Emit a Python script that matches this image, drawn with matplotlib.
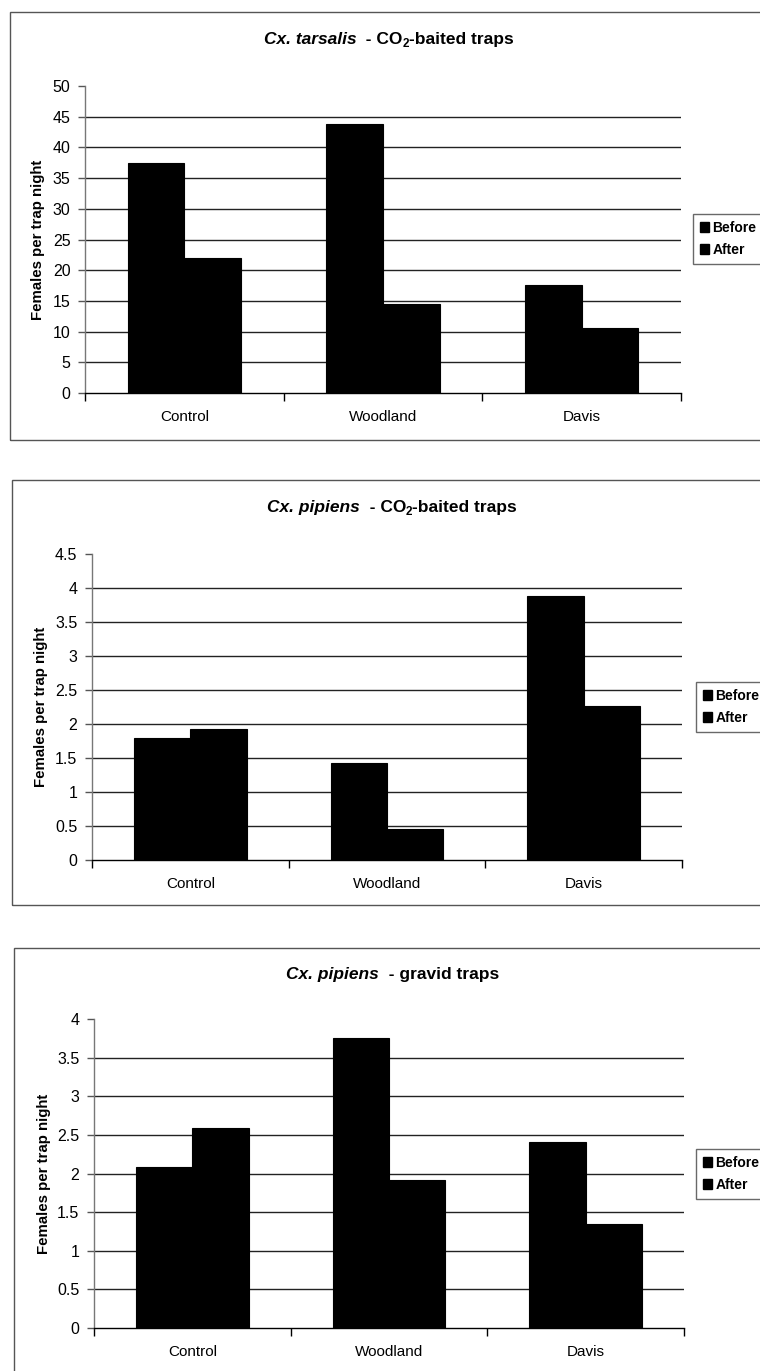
import matplotlib
matplotlib.use("Agg")
import matplotlib.pyplot as plt
from matplotlib.patches import Rectangle, Patch
from matplotlib.transforms import IdentityTransform
import numpy as np

plt.rcParams["font.family"] = ["Liberation Sans", "DejaVu Sans"]

W, H = 760, 1371
DPI = 100

# ---- data -------------------------------------------------------------
sites = ["Control", "Woodland", "Davis"]
series_names = ["Before", "After"]

tarsalis_co2_before = [37.5, 43.8, 17.6]
tarsalis_co2_after = [22.0, 14.5, 10.6]

pipiens_co2_before = [1.80, 1.43, 3.88]
pipiens_co2_after = [1.92, 0.45, 2.26]

pipiens_gravid_before = [2.09, 3.75, 2.41]
pipiens_gravid_after = [2.59, 1.92, 1.35]

yticks_tarsalis = [0, 5, 10, 15, 20, 25, 30, 35, 40, 45, 50]
yticks_pipiens_co2 = [0, 0.5, 1, 1.5, 2, 2.5, 3, 3.5, 4, 4.5]
yticks_pipiens_gravid = [0, 0.5, 1, 1.5, 2, 2.5, 3, 3.5, 4]

panels = [
    dict(species="Cx. tarsalis", trap="co2", before=tarsalis_co2_before,
         after=tarsalis_co2_after, yticks=yticks_tarsalis,
         ax_px=(85, 681, 86, 393), title_px=(389, 38), frame_px=(10, 12, 440),
         legend_px=(693, 214), ylabel_x=38),
    dict(species="Cx. pipiens", trap="co2", before=pipiens_co2_before,
         after=pipiens_co2_after, yticks=yticks_pipiens_co2,
         ax_px=(92, 682, 554, 860), title_px=(392, 506), frame_px=(12, 480, 905),
         legend_px=(696, 682), ylabel_x=41),
    dict(species="Cx. pipiens", trap="gravid", before=pipiens_gravid_before,
         after=pipiens_gravid_after, yticks=yticks_pipiens_gravid,
         ax_px=(94, 684, 1019, 1328), title_px=(393, 973), frame_px=(14, 948, 1420),
         legend_px=(696, 1149), ylabel_x=44),
]

fig = plt.figure(figsize=(W / DPI, H / DPI), dpi=DPI)
fig.patch.set_facecolor("white")


def fx(px):
    return px / W


def fy(py):
    return 1 - py / H


def draw_rich(fig, cx, cy, pieces):
    """Draw a sequence of differently styled text pieces centred at (cx, cy) px."""
    renderer = fig.canvas.get_renderer()
    items = []
    for txt, props, dy in pieces:
        t = fig.text(0, 0, txt, transform=IdentityTransform(),
                     va="baseline", ha="left", **props)
        w = t.get_window_extent(renderer).width
        items.append((t, w, dy))
    total = sum(w for _, w, _ in items)
    x = cx - total / 2
    base = (H - cy) - 6
    for t, w, dy in items:
        t.set_position((x, base - dy))
        x += w


bar_w = 1 / 3.5
centers = np.arange(len(sites)) + 0.5
TFS = 12.5

for p in panels:
    l, r, t, b = p["ax_px"]
    ax = fig.add_axes([fx(l), fy(b), fx(r - l), (b - t) / H])
    ax.set_facecolor("white")
    yt = p["yticks"]
    ax.set_xlim(0, len(sites))
    ax.set_ylim(yt[0], yt[-1])

    # horizontal gridlines
    ax.hlines(yt[1:-1], 0, len(sites), colors="#222222", linewidth=1.0, zorder=1)

    ax.bar(centers - bar_w / 2, p["before"], width=bar_w, color="black",
           edgecolor="black", linewidth=0.8, zorder=3, label=series_names[0])
    ax.bar(centers + bar_w / 2, p["after"], width=bar_w, color="black",
           edgecolor="black", linewidth=0.8, zorder=3, label=series_names[1])

    for side in ("top", "right"):
        ax.spines[side].set_visible(False)
    ax.spines["left"].set_color("#777777")
    ax.spines["left"].set_linewidth(1.0)
    ax.spines["bottom"].set_color("black")
    ax.spines["bottom"].set_linewidth(1.0)

    ax.set_yticks(yt)
    ax.set_yticklabels([f"{v:g}" for v in yt], fontsize=11.5)
    ax.tick_params(axis="y", direction="out", length=5, width=1,
                   color="#555555", pad=5.5)

    ax.set_xticks(np.arange(len(sites) + 1))
    ax.set_xticklabels([])
    ax.set_xticks(centers, minor=True)
    ax.set_xticklabels(sites, minor=True, fontsize=11)
    ax.tick_params(axis="x", which="major", direction="out", length=6,
                   width=1, color="black")
    ax.tick_params(axis="x", which="minor", length=0, pad=12)

    fig.text(fx(p["ylabel_x"]), fy((t + b) / 2), "Females per trap night",
             rotation=90, ha="center", va="center", fontsize=10.8,
             fontweight="bold")

    # title
    if p["trap"] == "co2":
        pieces = [
            (p["species"], dict(fontsize=TFS, fontweight="bold", fontstyle="italic"), 0),
            ("  - CO", dict(fontsize=TFS, fontweight="bold"), 0),
            ("2", dict(fontsize=8.5, fontweight="bold"), 3),
            ("-baited traps", dict(fontsize=TFS, fontweight="bold"), 0),
        ]
    else:
        pieces = [
            (p["species"], dict(fontsize=TFS, fontweight="bold", fontstyle="italic"), 0),
            ("  - gravid traps", dict(fontsize=TFS, fontweight="bold"), 0),
        ]
    draw_rich(fig, p["title_px"][0], p["title_px"][1], pieces)

    # outer chart frame (runs past the right edge)
    x0, y0, y1 = p["frame_px"]
    fig.patches.append(Rectangle((fx(x0), fy(y1)), fx(900 - x0), (y1 - y0) / H,
                                 transform=fig.transFigure, fill=False,
                                 edgecolor="#555555", linewidth=1.0))

    handles = [Patch(facecolor="black", edgecolor="black", label=n)
               for n in series_names]
    lx, ly = p["legend_px"]
    fig.legend(handles=handles, loc="upper left",
               bbox_to_anchor=(fx(lx), fy(ly)),
               prop=dict(size=10, weight="bold"),
               frameon=True, fancybox=False, edgecolor="#444444",
               handlelength=0.65, handleheight=0.7, handletextpad=0.25,
               borderpad=0.5, borderaxespad=0, labelspacing=0.55)

fig.savefig("out.png", dpi=DPI, facecolor="white")
